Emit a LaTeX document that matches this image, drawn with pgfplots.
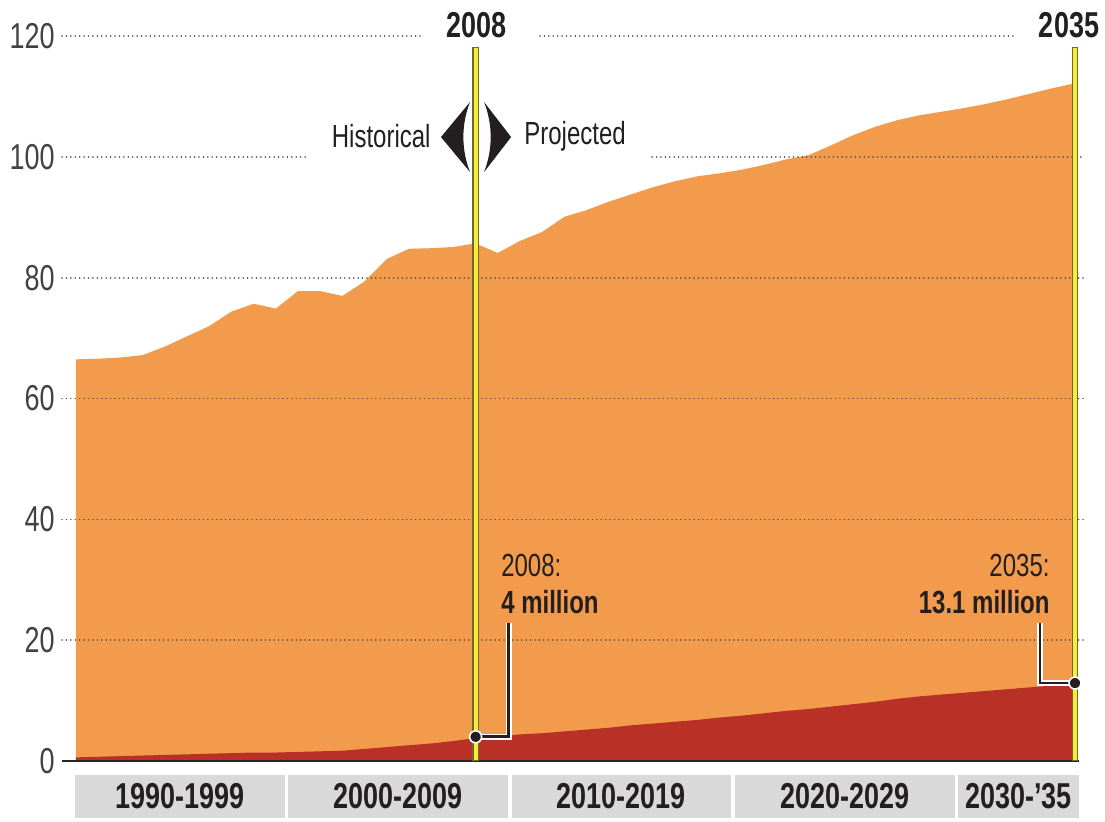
\documentclass[border=0pt]{standalone}
\usepackage{fontspec}
\setmainfont{Liberation Sans}[FakeStretch=0.75]
\usepackage{pgfplots}
\usepackage{pgfplotstable}
\pgfplotsset{compat=1.18}
\definecolor{orangec}{HTML}{F29B4D}
\definecolor{redc}{HTML}{B93126}
\definecolor{boxgray}{HTML}{D9D9D9}
\definecolor{txt}{HTML}{231F20}
\definecolor{yel}{HTML}{F7EC3B}
\definecolor{yeledge}{HTML}{6E6A2A}
\tikzset{gdot/.style={draw=black!70, line width=0.8pt, line cap=round, dash pattern=on 0.01pt off 2.2pt}}

\pgfplotstableread{
year total
1990 66.5
1991 66.6
1992 66.8
1993 67.2
1994 68.6
1995 70.3
1996 72.0
1997 74.4
1998 75.7
1999 74.9
2000 77.8
2001 77.8
2002 77.0
2003 79.4
2004 83.1
2005 84.8
2006 84.9
2007 85.1
2008 85.7
2009 84.1
2010 86.1
2011 87.6
2012 90.1
2013 91.2
2014 92.6
2015 93.8
2016 95.0
2017 96.0
2018 96.8
2019 97.3
2020 97.9
2021 98.7
2022 99.6
2023 100.3
2024 101.9
2025 103.6
2026 105.0
2027 106.1
2028 106.9
2029 107.5
2030 108.1
2031 108.8
2032 109.6
2033 110.5
2034 111.4
2035 112.2
}\totaltab

\pgfplotstableread{
year part
1990 0.6
1991 0.7
1992 0.8
1993 0.9
1994 1.0
1995 1.1
1996 1.2
1997 1.3
1998 1.4
1999 1.4
2000 1.5
2001 1.6
2002 1.7
2003 2.0
2004 2.3
2005 2.6
2006 2.9
2007 3.3
2008 3.8
2009 4.1
2010 4.4
2011 4.6
2012 4.9
2013 5.2
2014 5.5
2015 5.9
2016 6.2
2017 6.5
2018 6.8
2019 7.2
2020 7.5
2021 7.9
2022 8.3
2023 8.6
2024 9.0
2025 9.4
2026 9.8
2027 10.3
2028 10.7
2029 11.0
2030 11.3
2031 11.6
2032 11.9
2033 12.2
2034 12.5
2035 12.7
}\parttab

\begin{document}
\begin{tikzpicture}
\begin{axis}[
  scale only axis,
  width=511.5pt, height=362.4pt,
  xmin=1989.37, xmax=2035.45,
  ymin=0, ymax=120,
  axis line style={draw=none},
  xtick=\empty,
  ytick={0,20,...,120},
  major tick length=0pt,
  clip=false,
  /pgf/number format/assume math mode=true,
  yticklabel style={font=\fontsize{18}{20}\selectfont, text=txt!85, inner sep=0pt, anchor=east, xshift=-3.5pt},
]
% bounding box
\path (axis cs:1989.37,0) ++(-31pt,-30.5pt) rectangle ++(552.5pt,411pt);

\addplot[fill=orangec, draw=none] table[x=year,y=total] {\totaltab} \closedcycle;
\addplot[fill=redc, draw=none] table[x=year,y=part] {\parttab} \closedcycle;

% grid lines
\draw[gdot] (axis cs:1989.37,120) -- (axis cs:2005.5,120);
\draw[gdot] (axis cs:2010.9,120) -- (axis cs:2032.34,120);
\draw[gdot] (axis cs:1989.37,100) -- (axis cs:2000.45,100);
\draw[gdot] (axis cs:2015.95,100) -- (axis cs:2035.45,100);
\draw[gdot] (axis cs:1989.37,80) -- (axis cs:2035.45,80);
\draw[gdot] (axis cs:1989.37,60) -- (axis cs:2035.45,60);
\draw[gdot] (axis cs:1989.37,40) -- (axis cs:2035.45,40);
\draw[gdot] (axis cs:1989.37,20) -- (axis cs:2035.45,20);
% baseline
\draw[black!85, line width=0.9pt] (axis cs:1989.37,0) -- (axis cs:2035.2,0);

% yellow lines
\draw[yeledge, line width=3.4pt] (axis cs:2008,0) -- (axis cs:2008,118.2);
\draw[yel, line width=2.0pt] (axis cs:2008,0.2) -- (axis cs:2008,118.0);
\draw[yeledge, line width=3.4pt] (axis cs:2035,0) -- (axis cs:2035,118.2);
\draw[yel, line width=2.0pt] (axis cs:2035,0.2) -- (axis cs:2035,118.0);

% arrow shapes
\fill[txt] (axis cs:2007.75,109.1) -- (axis cs:2006.44,103.3) -- (axis cs:2007.75,97.5)
  .. controls (axis cs:2007.35,101.2) and (axis cs:2007.35,105.4) .. cycle;
\fill[txt] (axis cs:2008.38,109.1) -- (axis cs:2009.6,103.3) -- (axis cs:2008.38,97.5)
  .. controls (axis cs:2008.78,101.2) and (axis cs:2008.78,105.4) .. cycle;

\node[anchor=east, inner sep=0pt, text=txt, font=\fontsize{16}{18}\selectfont] at (axis cs:2005.99,103.4) {Historical};
\node[anchor=west, inner sep=0pt, text=txt, font=\fontsize{16}{18}\selectfont] at (axis cs:2010.18,103.4) {Projected};

\node[inner sep=0pt, text=txt, font=\fontsize{18}{20}\selectfont\bfseries] at (axis cs:2008.02,121.9) {2008};
\node[inner sep=0pt, text=txt, font=\fontsize{18}{20}\selectfont\bfseries] at (axis cs:2034.73,121.9) {2035};

% annotations
\node[anchor=west, inner sep=0pt, text=txt, font=\fontsize{16}{18}\selectfont] at (axis cs:2009.14,32.3) {2008:};
\node[anchor=west, inner sep=0pt, text=txt, font=\fontsize{16}{18}\selectfont\bfseries] at (axis cs:2009.14,26.3) {4 million};
\node[anchor=east, inner sep=0pt, text=txt, font=\fontsize{16}{18}\selectfont] at (axis cs:2033.87,32.3) {2035:};
\node[anchor=east, inner sep=0pt, text=txt, font=\fontsize{16}{18}\selectfont\bfseries] at (axis cs:2033.87,26.3) {13.1 million};

\addplot[white, line width=2.8pt, line join=miter] coordinates {(2008,4.0) (2009.5,4.0) (2009.5,22.8)};
\addplot[txt, line width=1.4pt, line join=miter] coordinates {(2008,4.0) (2009.5,4.0) (2009.5,22.8)};
\addplot[white, line width=2.8pt, line join=miter] coordinates {(2035,12.9) (2033.42,12.9) (2033.42,22.8)};
\addplot[txt, line width=1.4pt, line join=miter] coordinates {(2035,12.9) (2033.42,12.9) (2033.42,22.8)};
\addplot[only marks, mark=*, mark size=3pt, mark options={fill=txt, draw=white, line width=0.8pt}] coordinates {(2008,4.0) (2035,12.9)};

% decade boxes
\fill[boxgray] (axis cs:1989.95,-2.3) rectangle (axis cs:1999.41,-9.4);
\fill[boxgray] (axis cs:1999.55,-2.3) rectangle (axis cs:2009.46,-9.4);
\fill[boxgray] (axis cs:2009.64,-2.3) rectangle (axis cs:2019.5,-9.4);
\fill[boxgray] (axis cs:2019.68,-2.3) rectangle (axis cs:2029.6,-9.4);
\fill[boxgray] (axis cs:2029.73,-2.3) rectangle (axis cs:2035.18,-9.4);
\node[inner sep=0pt, text=txt, font=\fontsize{18}{20}\selectfont\bfseries] at (axis cs:1994.68,-5.85) {1990-1999};
\node[inner sep=0pt, text=txt, font=\fontsize{18}{20}\selectfont\bfseries] at (axis cs:2004.50,-5.85) {2000-2009};
\node[inner sep=0pt, text=txt, font=\fontsize{18}{20}\selectfont\bfseries] at (axis cs:2014.57,-5.85) {2010-2019};
\node[inner sep=0pt, text=txt, font=\fontsize{18}{20}\selectfont\bfseries] at (axis cs:2024.64,-5.85) {2020-2029};
\node[inner sep=0pt, text=txt, font=\fontsize{18}{20}\selectfont\bfseries] at (axis cs:2032.45,-5.85) {2030-’35};
\end{axis}
\end{tikzpicture}
\end{document}
